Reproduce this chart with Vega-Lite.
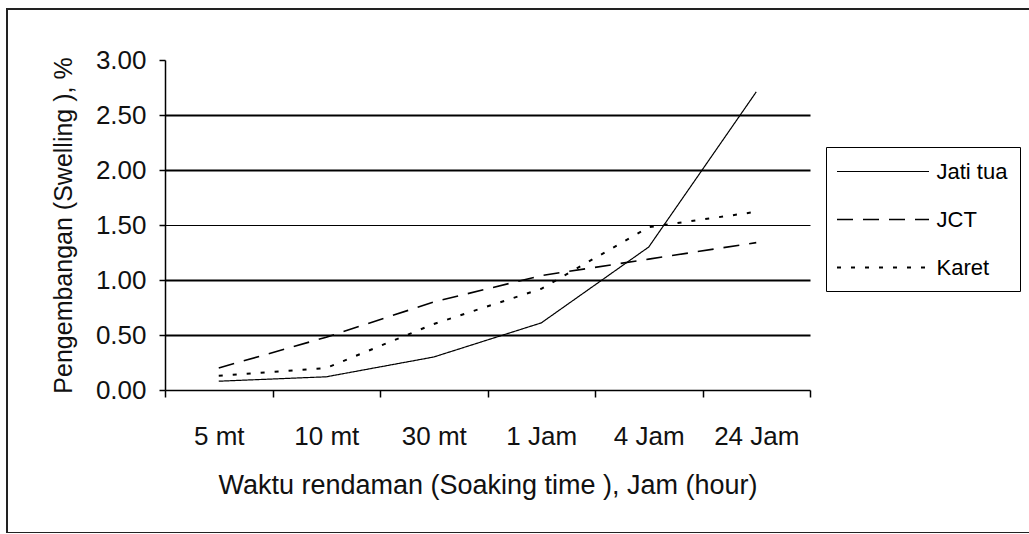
{
  "$schema": "https://vega.github.io/schema/vega-lite/v6.json",
  "width": 1030,
  "height": 524,
  "autosize": {"type": "none"},
  "padding": {"left": 7, "top": 9, "right": 0, "bottom": 0},
  "background": "white",
  "config": {
    "view": {"stroke": "#222", "strokeWidth": 2},
    "font": "Liberation Sans",
    "axis": {
      "labelFont": "Liberation Sans",
      "titleFont": "Liberation Sans",
      "labelColor": "#111",
      "titleColor": "#111",
      "domainColor": "#000",
      "tickColor": "#000",
      "titleFontWeight": "normal"
    },
    "legend": {
      "labelFont": "Liberation Sans"
    }
  },
  "data": {
    "values": [
      {"time": "5 mt", "wood": "Jati tua", "value": 0.08},
      {"time": "10 mt", "wood": "Jati tua", "value": 0.12},
      {"time": "30 mt", "wood": "Jati tua", "value": 0.30},
      {"time": "1 Jam", "wood": "Jati tua", "value": 0.61},
      {"time": "4 Jam", "wood": "Jati tua", "value": 1.30},
      {"time": "24 Jam", "wood": "Jati tua", "value": 2.71},
      {"time": "5 mt", "wood": "JCT", "value": 0.20},
      {"time": "10 mt", "wood": "JCT", "value": 0.48},
      {"time": "30 mt", "wood": "JCT", "value": 0.80},
      {"time": "1 Jam", "wood": "JCT", "value": 1.04},
      {"time": "4 Jam", "wood": "JCT", "value": 1.19},
      {"time": "24 Jam", "wood": "JCT", "value": 1.34},
      {"time": "5 mt", "wood": "Karet", "value": 0.13},
      {"time": "10 mt", "wood": "Karet", "value": 0.20},
      {"time": "30 mt", "wood": "Karet", "value": 0.60},
      {"time": "1 Jam", "wood": "Karet", "value": 0.92},
      {"time": "4 Jam", "wood": "Karet", "value": 1.48},
      {"time": "24 Jam", "wood": "Karet", "value": 1.62}
    ]
  },
  "mark": {"type": "line", "color": "#000"},
  "encoding": {
    "x": {
      "field": "time",
      "type": "ordinal",
      "sort": ["5 mt", "10 mt", "30 mt", "1 Jam", "4 Jam", "24 Jam"],
      "bandPosition": 0.5,
      "scale": {"type": "band", "range": [158, 803], "paddingInner": 0, "paddingOuter": 0},
      "axis": {
        "title": "Waktu rendaman (Soaking time ), Jam (hour)",
        "orient": "bottom",
        "offset": -143,
        "tickBand": "extent",
        "labelAngle": 0,
        "labelFontSize": 26,
        "labelPadding": 26,
        "tickSize": 7,
        "tickWidth": 1.5,
        "domainWidth": 1.5,
        "titleFontSize": 27,
        "titlePadding": 23,
        "grid": false
      }
    },
    "y": {
      "field": "value",
      "type": "quantitative",
      "scale": {"domain": [0, 3], "range": [381, 51], "nice": false},
      "axis": {
        "title": "Pengembangan (Swelling ), %",
        "offset": -158,
        "values": [0, 0.5, 1, 1.5, 2, 2.5, 3],
        "format": ".2f",
        "labelFontSize": 26,
        "labelPadding": 13,
        "tickSize": 6,
        "tickWidth": 1.5,
        "domainWidth": 1.5,
        "titleFontSize": 25,
        "titlePadding": 19,
        "grid": true,
        "gridColor": "#000",
        "gridWidth": {"condition": {"test": "datum.value == 1.5", "value": 1}, "value": 2},
        "gridOpacity": {"condition": {"test": "datum.value >= 3 || datum.value <= 0", "value": 0}, "value": 1}
      }
    },
    "strokeDash": {
      "field": "wood",
      "type": "nominal",
      "scale": {"domain": ["Jati tua", "JCT", "Karet"], "range": [[1, 0], [16, 10], [4, 10]]},
      "legend": {
        "title": null,
        "orient": "none",
        "legendX": 819,
        "legendY": 138,
        "strokeColor": "#000",
        "padding": 12,
        "symbolType": "M-4,0H4",
        "symbolSize": 529,
        "symbolOffset": 32.5,
        "symbolStrokeWidth": 2,
        "symbolStrokeColor": "#000",
        "labelFontSize": 22,
        "labelColor": "#000",
        "labelOffset": 41,
        "rowPadding": 24
      }
    },
    "strokeWidth": {
      "field": "wood",
      "type": "nominal",
      "scale": {"domain": ["Jati tua", "JCT", "Karet"], "range": [1.2, 2, 2]},
      "legend": null
    }
  }
}
